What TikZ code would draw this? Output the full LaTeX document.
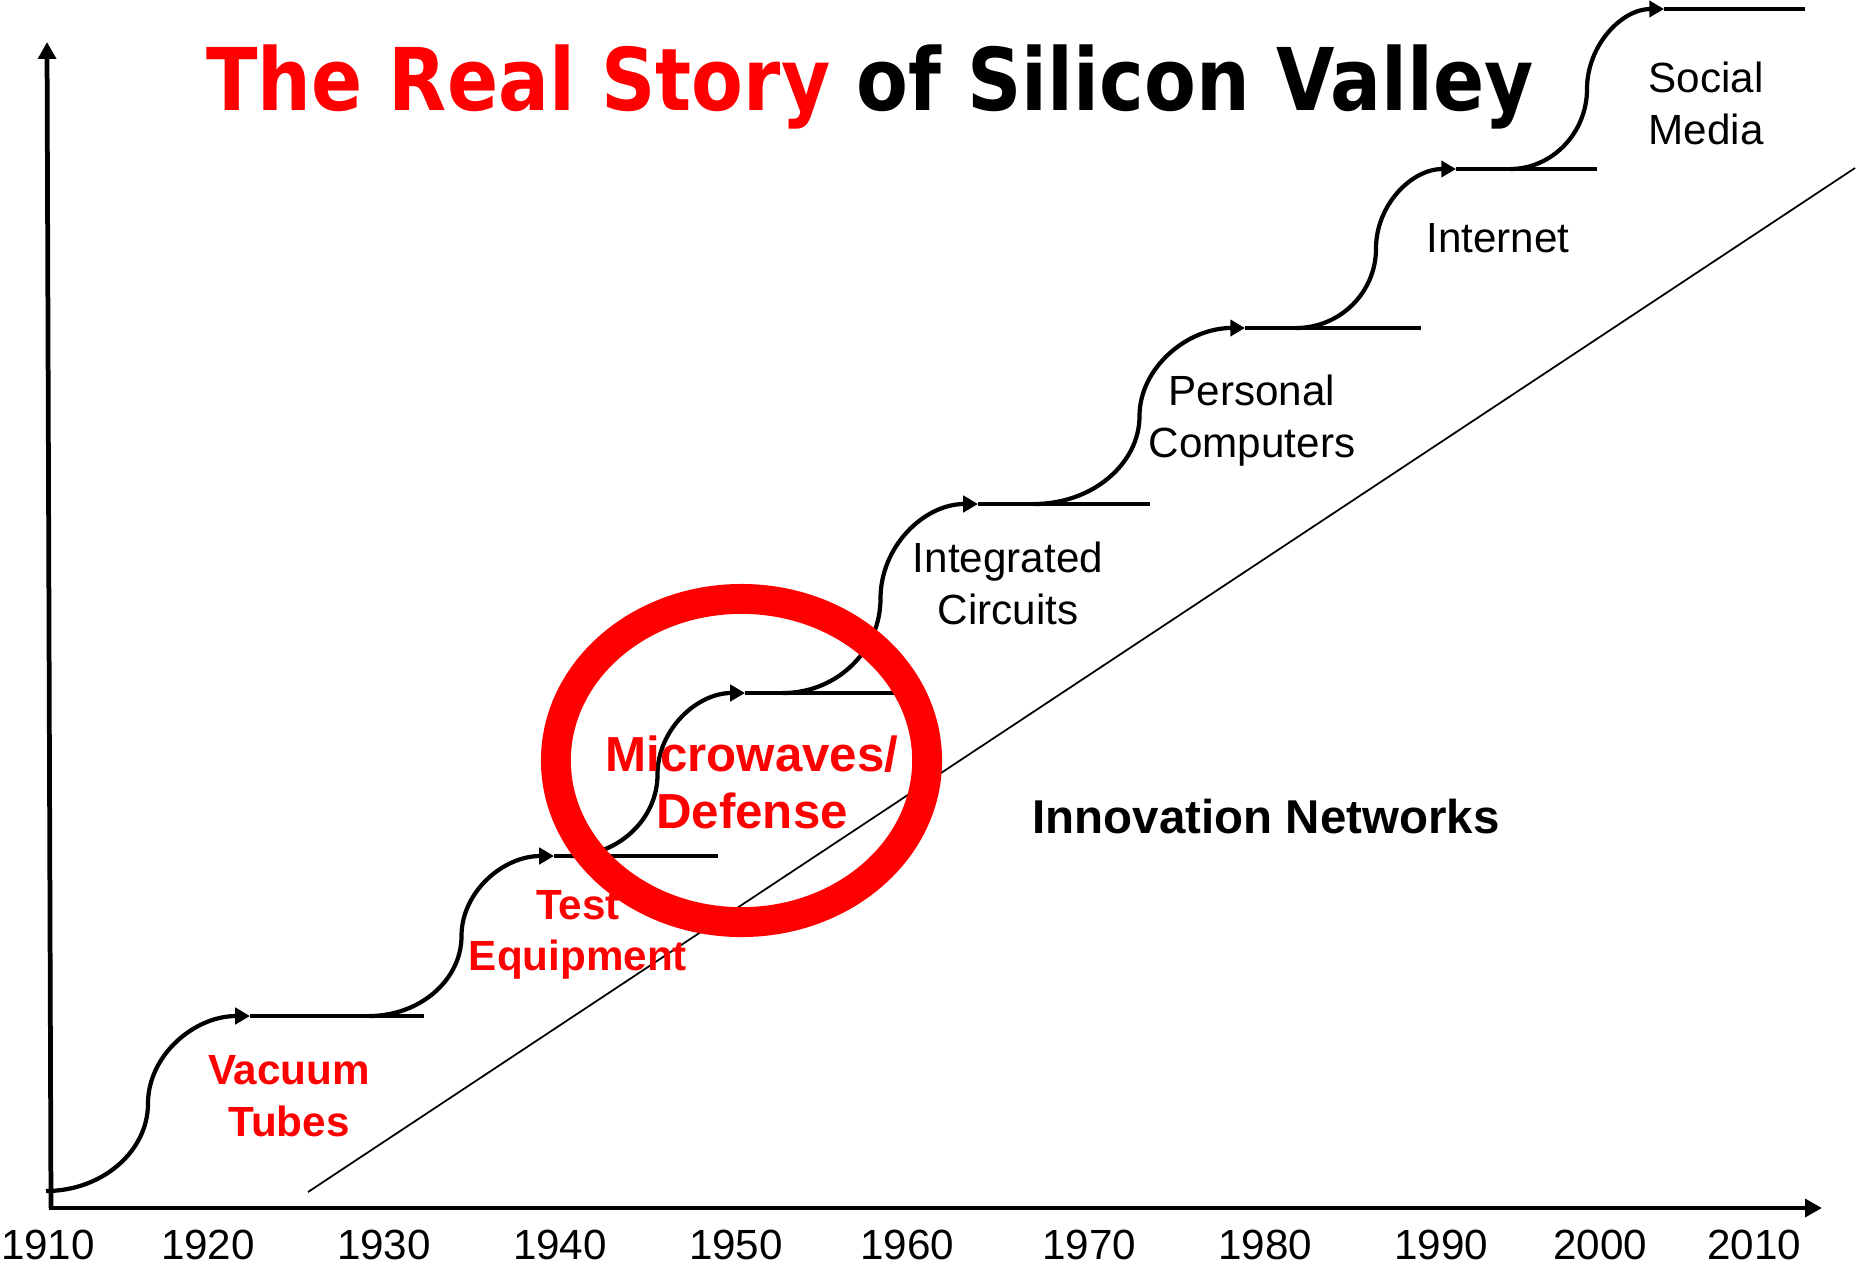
\documentclass[tikz,border=0pt]{standalone}
\usepackage{fontspec}
\setmainfont{Liberation Sans}
\newfontfamily\titlefont{DejaVu Sans}
\usepackage{graphicx}
\usepackage{xcolor}
\usepackage{tikz}
\usetikzlibrary{positioning}
\usetikzlibrary{arrows.meta}
\usetikzlibrary{calc}

\begin{document}
\begin{tikzpicture}[x=0.01cm, y=-0.01cm,
            axis/.style={line width=1.35pt, -{Triangle[length=4.8pt,width=5pt]}},
            wave/.style={line width=1.2pt, -{Triangle[length=4.2pt,width=4.6pt]}},
            shelf/.style={line width=1.2pt},
            trend/.style={line width=0.5pt},
            ring/.style={draw=red, line width=8.5pt},
            year/.style={font=\fontsize{12}{14}\selectfont},
            era/.style={align=center, font=\fontsize{12}{14.8}\selectfont},
            hotera/.style={align=center, text=red, font=\bfseries\fontsize{12}{14.6}\selectfont}]
            \useasboundingbox (0,0) rectangle (1864,1269);

            % axes
            \coordinate (origin) at (51,1208);
            \coordinate (ytop) at (47,42);
            \coordinate (xend) at (1822,1208);
            \draw[axis] (origin) -- (ytop);
            \draw[axis] ($(origin)+(-2,0)$) -- (xend);

            % steps
            \coordinate (vac0) at (46,1191);   \coordinate (vac1) at (250,1016);  \coordinate (vac2) at (424,1016);
            \coordinate (test0) at (369,1016); \coordinate (test1) at (554,856);  \coordinate (test2) at (718,856);
            \coordinate (mw0) at (570,856);    \coordinate (mw1) at (745,693);    \coordinate (mw2) at (894,693);
            \coordinate (ic0) at (783,693);    \coordinate (ic1) at (978,504);    \coordinate (ic2) at (1150,504);
            \coordinate (pc0) at (1034,504);   \coordinate (pc1) at (1245,328);   \coordinate (pc2) at (1421,328);
            \coordinate (net0) at (1296,328);  \coordinate (net1) at (1456,169);  \coordinate (net2) at (1597,169);
            \coordinate (soc0) at (1510,169);  \coordinate (soc1) at (1664,9);    \coordinate (soc2) at (1805,9);

            \draw[wave] (vac0) .. controls +(56,0) and +(0,48) .. ($(vac0)!.5!(vac1)$)
                .. controls +(0,-48) and +(-56,0) .. (vac1);
            \draw[wave] (test0) .. controls +(51,0) and +(0,44) .. ($(test0)!.5!(test1)$)
                .. controls +(0,-44) and +(-51,0) .. (test1);
            \draw[wave] (mw0) .. controls +(48,0) and +(0,45) .. ($(mw0)!.5!(mw1)$)
                .. controls +(0,-45) and +(-48,0) .. (mw1);
            \draw[wave] (ic0) .. controls +(54,0) and +(0,52) .. ($(ic0)!.5!(ic1)$)
                .. controls +(0,-52) and +(-54,0) .. (ic1);
            \draw[wave] (pc0) .. controls +(58,0) and +(0,48) .. ($(pc0)!.5!(pc1)$)
                .. controls +(0,-48) and +(-58,0) .. (pc1);
            \draw[wave] (net0) .. controls +(44,0) and +(0,44) .. ($(net0)!.5!(net1)$)
                .. controls +(0,-44) and +(-44,0) .. (net1);
            \draw[wave] (soc0) .. controls +(42,0) and +(0,44) .. ($(soc0)!.5!(soc1)$)
                .. controls +(0,-44) and +(-42,0) .. (soc1);

            \draw[shelf] (vac1) -- (vac2);
            \draw[shelf] (test1) -- (test2);
            \draw[shelf] (mw1) -- (mw2);
            \draw[shelf] (ic1) -- (ic2);
            \draw[shelf] (pc1) -- (pc2);
            \draw[shelf] (net1) -- (net2);
            \draw[shelf] (soc1) -- (soc2);

            % networks trend
            \coordinate (trend0) at (308,1192);
            \coordinate (trend1) at (1855,168);
            \draw[trend] (trend0) -- (trend1);

            % highlight
            \coordinate (ringc) at (741.5,760.5);
            \draw[ring] (ringc) ellipse [x radius=1.855cm, y radius=1.615cm];

            % labels
            \node (title) [anchor=base] at (870,110) {\titlefont\bfseries\fontsize{24.6}{28}\selectfont
                \scalebox{0.873}[1]{\textcolor{red}{The Real Story} of Silicon Valley}};
            \node[hotera] (vacuum) at (289,1096) {Vacuum\\Tubes};
            \node[hotera] (testeq) at (578,935) {Test\\Equipment};
            \node[hotera, font=\bfseries\fontsize{14}{16.2}\selectfont] (microwave) at (752,782) {Microwaves/\\Defense};
            \node[era] (ics) at (1008,583) {Integrated\\Circuits};
            \node[era] (pcs) at (1252,421) {Personal\\Computers};
            \node[era] (internet) at (1498,238) {Internet};
            \node[era] (social) at (1706,103) {Social\\Media};
            \node[font=\bfseries\fontsize{13.5}{16}\selectfont] (innov) at (1266,817) {Innovation Networks};

            % years
            \node[year] (y1910) at (48,1245) {1910};
            \node[year] (y1920) at (208,1245) {1920};
            \node[year] (y1930) at (384,1245) {1930};
            \node[year] (y1940) at (560,1245) {1940};
            \node[year] (y1950) at (736,1245) {1950};
            \node[year] (y1960) at (907,1245) {1960};
            \node[year] (y1970) at (1089,1245) {1970};
            \node[year] (y1980) at (1265,1245) {1980};
            \node[year] (y1990) at (1441,1245) {1990};
            \node[year] (y2000) at (1600,1245) {2000};
            \node[year] (y2010) at (1754,1245) {2010};
\end{tikzpicture}
\end{document}
